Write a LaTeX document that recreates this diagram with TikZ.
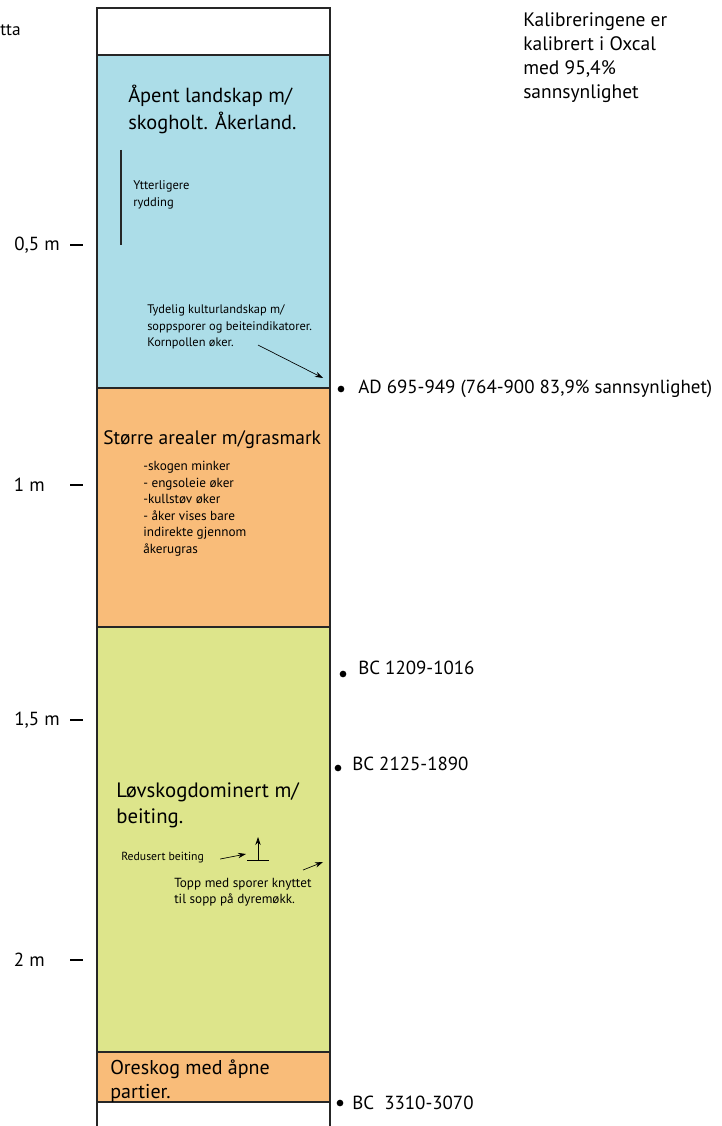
\documentclass[tikz,border=0pt]{standalone}
\usepackage{fontspec}
\setmainfont{PT Sans}
\usetikzlibrary{arrows.meta}
\definecolor{layerblue}{RGB}{172,221,232}
\definecolor{layerorange}{RGB}{249,188,121}
\definecolor{layergreen}{RGB}{221,229,139}
\tikzset{
  bigtext/.style={anchor=north west, inner sep=0pt, align=left, font=\fontsize{15.3}{20}\selectfont},
  smalltext/.style={anchor=north west, inner sep=0pt, align=left, font=\fontsize{9.8}{12.7}\selectfont},
  datetext/.style={anchor=west, inner sep=0pt, font=\fontsize{14.2}{16}\selectfont},
  depthtext/.style={anchor=east, inner sep=0pt, font=\fontsize{14.2}{16}\selectfont},
  sampledot/.style={circle, fill=black, inner sep=0pt, minimum size=5pt},
  pointer/.style={-{Stealth[length=6pt,width=4pt]}, line width=0.5pt},
  layer/.style={draw=black!85, line width=1.5pt}
}
\begin{document}
\begin{tikzpicture}[x=0.75pt,y=-0.75pt]
\useasboundingbox (0,0) rectangle (721,1126);
% lagene
\fill[layerblue] (97,55) rectangle (330,388);
\fill[layerorange] (97,388) rectangle (330,627);
\fill[layergreen] (97,627) rectangle (330,1052);
\fill[layerorange] (97,1052) rectangle (330,1102);
\draw[layer] (97,1126) -- (97,8) -- (330,8) -- (330,1126);
\foreach \y in {55,388,627,1052,1102} {
  \draw[layer] (97,\y) -- (330,\y);
}
% dybde
\node[depthtext] (d05) at (60,245) {0,5 m};
\node[depthtext] (d10) at (45,485) {1 m};
\node[depthtext] (d15) at (60,720) {1,5 m};
\node[depthtext] (d20) at (45,960) {2 m};
\foreach \y in {245,485,720,960} {
  \draw[line width=1pt] (70,\y) -- (83,\y);
}
\node[datetext, font=\fontsize{13}{16}\selectfont] (cut) at (0,30) {tta};
\node[anchor=north west, inner sep=0pt, align=left, font=\fontsize{14.6}{18}\selectfont] (oxcal) at (523,12) {Kalibreringene er\\kalibrert i Oxcal\\med 95,4\%\\sannsynlighet};
% blått lag
\node[bigtext] (open) at (128,85) {Åpent landskap m/\\skogholt. Åkerland.};
\coordinate (clearA) at (121,150);
\coordinate (clearB) at (121,245);
\draw[line width=2pt, black!85] (clearA) -- (clearB);
\node[smalltext, font=\fontsize{9.4}{12.7}\selectfont] (clearing) at (133,180) {Ytterligere\\rydding};
\node[smalltext, font=\fontsize{9.3}{12.7}\selectfont] (culture) at (147,304) {Tydelig kulturlandskap m/\\soppsporer og beiteindikatorer.\\Kornpollen øker.};
\coordinate (cultureA) at (258,345);
\coordinate (cultureB) at (323,378);
\draw[pointer] (cultureA) -- (cultureB);
% oransje lag
\node[bigtext, anchor=west, font=\fontsize{14.6}{20}\selectfont] (grass) at (103,440) {Større arealer m/grasmark};
\node[smalltext, font=\fontsize{9.9}{12.4}\selectfont] (list) at (143,461) {-skogen minker\\- engsoleie øker\\-kullstøv øker\\- åker vises bare\\indirekte gjennom\\åkerugras};
% grønt lag
\node[bigtext, font=\fontsize{15.6}{19.5}\selectfont] (forest) at (116,782) {Løvskogdominert m/\\beiting.};
\node[smalltext, anchor=west, font=\fontsize{8.8}{12}\selectfont] (grazing) at (121,858) {Redusert beiting};
\coordinate (markL) at (247,860);
\coordinate (markR) at (269,860);
\coordinate (markB) at (258,860);
\coordinate (markT) at (258,837);
\draw[line width=0.5pt] (markL) -- (markR);
\draw[pointer] (markB) -- (markT);
\draw[pointer] (grazing.east) ++(16,1) -- (246,854);
\node[smalltext, font=\fontsize{9.9}{12}\selectfont] (dung) at (174,878) {Topp med sporer knyttet\\til sopp på dyremøkk.};
\coordinate (dungA) at (303,870);
\coordinate (dungB) at (323,862);
\draw[pointer] (dungA) -- (dungB);
% nederste lag
\node[bigtext, font=\fontsize{15}{18}\selectfont] (alder) at (110,1060) {Oreskog med åpne\\partier.};
% dateringer
\node[sampledot] (s1) at (341,389) {};
\node[datetext] (ad) at (358,389) {AD 695-949 (764-900 83,9\% sannsynlighet)};
\node[sampledot] (s2) at (343,674) {};
\node[datetext] (bc1) at (358,668) {BC 1209-1016};
\node[sampledot] (s3) at (338,768) {};
\node[datetext] (bc2) at (352,764) {BC 2125-1890};
\node[sampledot] (s4) at (340,1103) {};
\node[datetext] (bc3) at (352,1103) {BC\ \ 3310-3070};
\end{tikzpicture}
\end{document}
